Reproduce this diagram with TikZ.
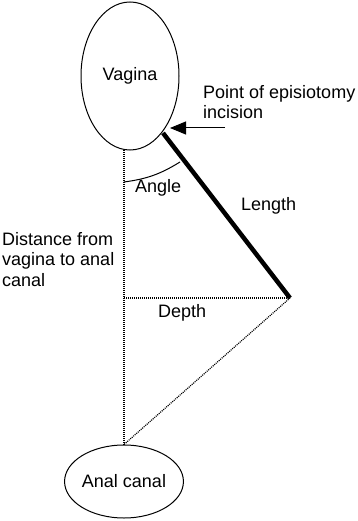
\documentclass[tikz,border=0pt]{standalone}
\usepackage{fontspec}
\setmainfont{Liberation Sans}
\usetikzlibrary{shapes.geometric, arrows.meta}

\begin{document}
\begin{tikzpicture}[x=1pt, y=-1pt,
    organ/.style={draw, ellipse, line width=1pt, inner sep=0pt},
    dotline/.style={line width=1.2pt, dash pattern=on 1pt off 1pt},
    lbl/.style={inner sep=0pt, font=\fontsize{18}{20.5}\selectfont}]

    \useasboundingbox (0,0) rectangle (358,521);

    % The two openings
    \node[organ, minimum width=98pt, minimum height=148pt, lbl] (vagina) at (130,76) {Vagina};
    \node[organ, minimum width=115pt, minimum height=73pt, lbl] (anal) at (124,481.5) {Anal canal};

    % Points used by the measurements
    \coordinate (incision) at (163,133);
    \coordinate (tip) at (290,298);
    \coordinate (vtop) at (124,150);
    \coordinate (vmid) at (124,298);
    \coordinate (abot) at (anal.north);

    % Distance from vagina to anal canal
    \draw[dotline, line width=2pt] (vtop) -- (abot);

    % Depth and closing side of the triangle
    \draw[dotline] (vmid) -- (tip);
    \draw[dotline] (tip) -- (abot);

    % Length of the incision
    \draw[line width=4.5pt] (incision) -- (tip);

    % Angle mark
    \coordinate (arcA) at (124,182);
    \coordinate (arcB) at (180,162);
    \draw[line width=1pt] (arcA) to[bend right=12] (arcB);

    % Pointer to the incision point
    \coordinate (ptrtail) at (225,128);
    \coordinate (ptrhead) at (170,128);
    \draw[line width=1pt, -{Triangle[length=16pt, width=13pt]}] (ptrtail) -- (ptrhead);

    % Labels
    \node[lbl, anchor=north west, align=left] (pointlbl) at (203,85) {Point of episiotomy\\incision};
    \node[lbl, anchor=base west] (anglelbl) at (135,193) {Angle};
    \node[lbl, anchor=base west] (lengthlbl) at (241,211) {Length};
    \node[lbl, anchor=north west, align=left] (distlbl) at (2,232) {Distance from\\vagina to anal\\canal};
    \node[lbl, anchor=base west] (depthlbl) at (158,317) {Depth};

\end{tikzpicture}
\end{document}
